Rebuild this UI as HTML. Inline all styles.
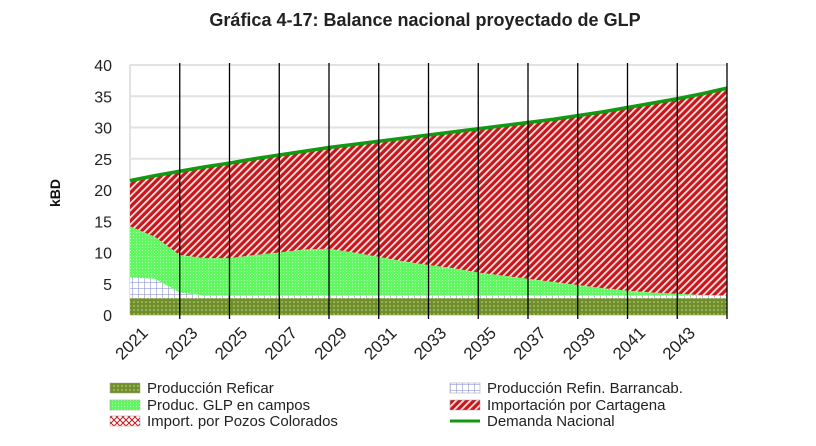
<!DOCTYPE html>
<html><head><meta charset="utf-8"><style>
body{margin:0;background:#fff;}
svg text{font-family:"Liberation Sans",sans-serif;}
</style></head><body>
<svg id="c" width="816" height="441" viewBox="0 0 816 441">
<defs>
<pattern id="pRef" width="4" height="4" patternUnits="userSpaceOnUse"><rect width="4" height="4" fill="#6f8f2a"/><circle cx="2" cy="2" r="0.8" fill="#c8d890"/></pattern>
<pattern id="pBar" width="6" height="6" patternUnits="userSpaceOnUse"><rect width="6" height="6" fill="#fff"/><path d="M0 0H6M0 0V6" stroke="#7b86c8" stroke-width="1"/></pattern>
<pattern id="pCam" width="3" height="3" patternUnits="userSpaceOnUse"><rect width="3" height="3" fill="#60f860"/><circle cx="1.5" cy="1.5" r="0.6" fill="#b8ffb8"/></pattern>
<pattern id="pCar" width="5" height="5" patternUnits="userSpaceOnUse" patternTransform="rotate(45)"><rect width="5" height="5" fill="#c8161b"/><rect width="1.8" height="5" fill="#fbe3e3"/></pattern>
<pattern id="pPoz" width="6" height="6" patternUnits="userSpaceOnUse"><rect width="6" height="6" fill="#fff"/><path d="M0 0L6 6M6 0L0 6" stroke="#c8161b" stroke-width="1"/></pattern>
</defs>
<text x="425" y="26" text-anchor="middle" font-size="18" font-weight="bold" fill="#222">Gráfica 4-17: Balance nacional proyectado de GLP</text>
<text transform="translate(60,193) rotate(-90)" text-anchor="middle" font-size="14" font-weight="bold" fill="#111">kBD</text>
<g id="grid"></g><g id="areas"></g><g id="vlines"></g><g id="ticks"></g>
<g id="legend" font-size="15" fill="#222"></g>
</svg>
<script>
const years=[2021,2022,2023,2024,2025,2026,2027,2028,2029,2030,2031,2032,2033,2034,2035,2036,2037,2038,2039,2040,2041,2042,2043,2044,2045];
const reficar=[2.7,2.7,2.7,2.7,2.7,2.7,2.7,2.7,2.7,2.7,2.7,2.7,2.7,2.7,2.7,2.7,2.7,2.7,2.7,2.7,2.7,2.7,2.7,2.7,2.7];
const barranca=[3.3,3.1,0.9,0.4,0.4,0.4,0.4,0.4,0.4,0.4,0.4,0.4,0.4,0.4,0.4,0.4,0.4,0.4,0.4,0.4,0.4,0.4,0.4,0.4,0.4];
const campos=[8.2,6.7,6.0,6.0,6.0,6.5,6.9,7.4,7.5,6.9,6.2,5.5,4.9,4.4,3.7,3.2,2.7,2.2,1.7,1.2,0.8,0.5,0.3,0.1,0];
const pozos=[0,0,0,0,0,0,0,0,0,0,0,0,0,0,0,0,0,0,0,0,0,0,0,0,0];
const demanda=[21.5,22.3,23.0,23.7,24.3,25.0,25.6,26.2,26.8,27.3,27.8,28.3,28.8,29.3,29.8,30.3,30.8,31.3,31.9,32.5,33.2,33.9,34.6,35.4,36.3];
const yTicks=[0,5,10,15,20,25,30,35,40];
const ns="http://www.w3.org/2000/svg";
const X0=130,X1=727,Y0=315,Y1=65;
const xs=i=>X0+(X1-X0)*(years[i]-years[0])/(years[years.length-1]-years[0]);
const ys=v=>Y0-(Y0-Y1)*v/40;
function mk(t,a,p){const e=document.createElementNS(ns,t);for(const k in a)e.setAttribute(k,a[k]);p.appendChild(e);return e;}
const grid=document.getElementById('grid');
yTicks.forEach(v=>{
 const l=mk('line',{x1:X0,x2:X1,y1:ys(v),y2:ys(v),stroke:'#e2e2e2','stroke-width':2},grid);
 
 
 const t=mk('text',{x:112,y:ys(v)+6,'text-anchor':'end','font-size':16,fill:'#222'},grid);t.textContent=v;
 
 
});
const ax=mk('line',{x1:X0,x2:X0,y1:Y1,y2:Y0,stroke:'#e2e2e2','stroke-width':2},grid);


const areas=document.getElementById('areas');
let base=years.map(()=>0);
const layers=[[reficar,'url(#pRef)','area-produccion-reficar'],[barranca,'url(#pBar)','area-produccion-barrancabermeja'],[campos,'url(#pCam)','area-glp-campos'],[pozos,'url(#pPoz)','area-pozos-colorados']];
layers.forEach(([arr,fill,name])=>{
 const top=base.map((b,i)=>b+arr[i]);
 let d='M'+years.map((_,i)=>xs(i)+','+ys(top[i])).join('L');
 for(let i=years.length-1;i>=0;i--)d+='L'+xs(i)+','+ys(base[i]);
 const p=mk('path',{d:d+'Z',fill:fill},areas);
 
 
 base=top;
});
let d='M'+years.map((_,i)=>xs(i)+','+ys(demanda[i])).join('L');
for(let i=years.length-1;i>=0;i--)d+='L'+xs(i)+','+ys(base[i]);
const car=mk('path',{d:d+'Z',fill:'url(#pCar)'},areas);


const ln=mk('path',{d:'M'+years.map((_,i)=>xs(i)+','+ys(demanda[i])).join('L'),fill:'none',stroke:'#119a11','stroke-width':3.5},areas);


const vl=document.getElementById('vlines'),tk=document.getElementById('ticks');
years.forEach((y,i)=>{
 if(i%2)return;
 if(i>0){const l=mk('line',{x1:xs(i),x2:xs(i),y1:Y1-2,y2:Y0+4,stroke:'#000','stroke-width':1.3},vl);
 
 }
 if(i<years.length-1){const t=mk('text',{transform:`translate(${xs(i)+19},${Y0+19}) rotate(-45)`,'text-anchor':'end','font-size':17,fill:'#222'},tk);t.textContent=y;
 
 }
});
const lg=document.getElementById('legend');
const items=[['Producción Reficar','url(#pRef)',110,388,'legend-reficar'],['Producción Refin. Barrancab.','url(#pBar)',450,388,'legend-barrancabermeja'],['Produc. GLP en campos','url(#pCam)',110,405,'legend-campos'],['Importación por Cartagena','url(#pCar)',450,405,'legend-cartagena'],['Import. por Pozos Colorados','url(#pPoz)',110,421,'legend-pozos-colorados'],['Demanda Nacional',null,450,421,'legend-demanda']];
items.forEach(([txt,fill,x,y,name])=>{
 const g=mk('g',{},lg);
 
 
 if(fill)mk('rect',{x:x,y:y-5,width:30,height:10,fill:fill,stroke:'#999','stroke-width':0.5},g);
 else mk('line',{x1:x,x2:x+30,y1:y,y2:y,stroke:'#119a11','stroke-width':3},g);
 const t=mk('text',{x:x+37,y:y+5},g);t.textContent=txt;
});
</script>
</body></html>
